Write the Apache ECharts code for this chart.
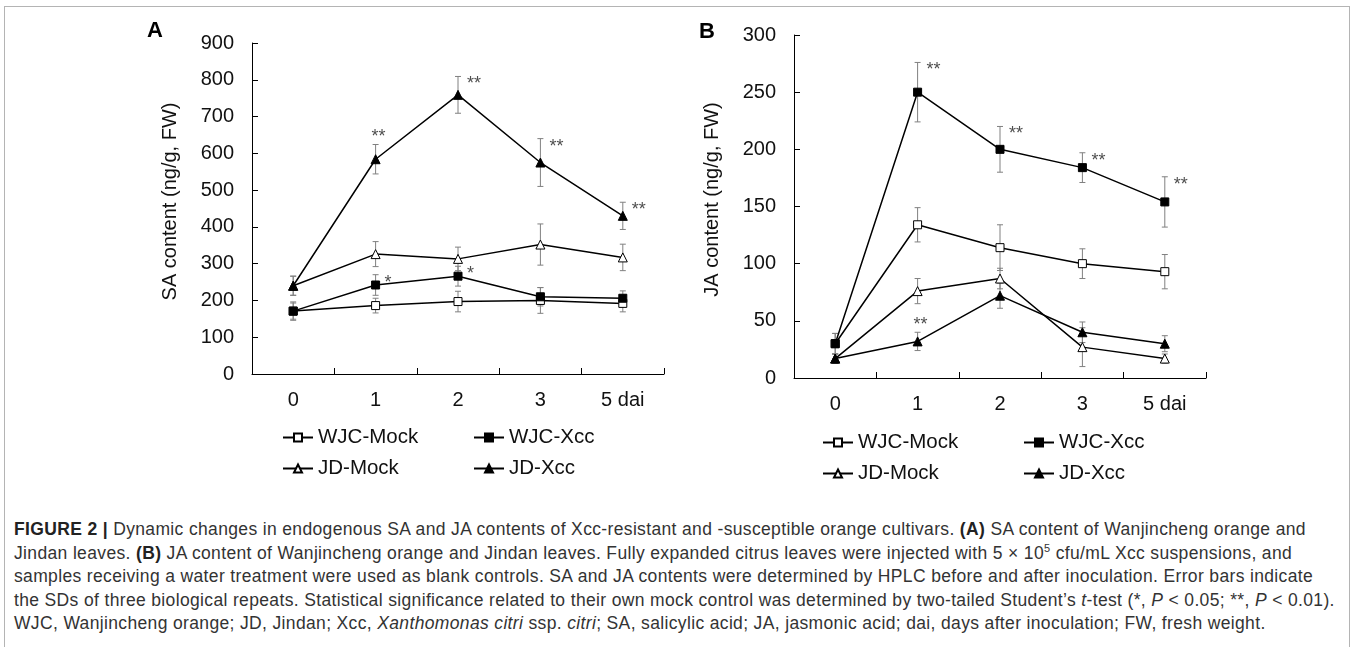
<!DOCTYPE html>
<html>
<head>
<meta charset="utf-8">
<script src="https://cdn.jsdelivr.net/npm/echarts@6/dist/echarts.min.js"></script>
<style>
  html, body { margin: 0; padding: 0; background: #fff; overflow: hidden; }
  .frame { position: absolute; left: 4px; top: 6px; width: 1344px; height: 700px; border: 1px solid #b4b4b4; }
  #chart { position: absolute; left: 0; top: 0; width: 1352px; height: 500px; }
  .caption {
    position: absolute; left: 14px; top: 518px; width: 1334px;
    font-family: "Liberation Sans", Arial, sans-serif; font-size: 17.5px; letter-spacing: 0.35px; line-height: 23.5px;
    color: #333; white-space: nowrap;
  }
  .caption b { color: #222; }
</style>
</head>
<body>
<div class="frame"></div>
<div id="chart"></div>
<div class="caption">
  <div><b>FIGURE 2 |</b> Dynamic changes in endogenous SA and JA contents of Xcc-resistant and -susceptible orange cultivars. <b>(A)</b> SA content of Wanjincheng orange and</div>
  <div>Jindan leaves. <b>(B)</b> JA content of Wanjincheng orange and Jindan leaves. Fully expanded citrus leaves were injected with 5 × 10<sup style="font-size:11px;line-height:0">5</sup> cfu/mL Xcc suspensions, and</div>
  <div>samples receiving a water treatment were used as blank controls. SA and JA contents were determined by HPLC before and after inoculation. Error bars indicate</div>
  <div>the SDs of three biological repeats. Statistical significance related to their own mock control was determined by two-tailed Student’s <i>t</i>-test (*, <i>P</i> &lt; 0.05; **, <i>P</i> &lt; 0.01).</div>
  <div>WJC, Wanjincheng orange; JD, Jindan; Xcc, <i>Xanthomonas citri</i> ssp. <i>citri</i>; SA, salicylic acid; JA, jasmonic acid; dai, days after inoculation; FW, fresh weight.</div>
</div>
<script>
// categories (days after inoculation)
const days = ['0', '1', '2', '3', '5 dai'];
const saTicks = { min: 0, max: 900, interval: 100 };
const jaTicks = { min: 0, max: 300, interval: 50 };

// SA content (ng/g FW) and SD
const wjcMockSA = [171, 186, 197, 200, 192];
const wjcMockSAsd = [22, 20, 28, 35, 23];
const wjcXccSA = [171, 242, 266, 210, 206];
const wjcXccSAsd = [25, 28, 27, 25, 20];
const jdMockSA = [240, 326, 313, 352, 317];
const jdMockSAsd = [26, 34, 32, 56, 36];
const jdXccSA = [240, 584, 759, 575, 430];
const jdXccSAsd = [26, 40, 50, 65, 37];

// JA content (ng/g FW) and SD
const wjcMockJA = [30, 134, 114, 100, 93];
const wjcMockJAsd = [9, 15, 20, 13, 15];
const wjcXccJA = [30, 250, 200, 184, 154];
const wjcXccJAsd = [9, 26, 20, 13, 22];
const jdMockJA = [17, 76, 87, 27, 17];
const jdMockJAsd = [4, 11, 9, 17, 4];
const jdXccJA = [17, 32, 72, 40, 30];
const jdXccJAsd = [4, 8, 11, 9, 7];

// significance marks
const wjcXccSAsig = ['', '*', '*', '', ''];
const jdXccSAsig = ['', '**', '**', '**', '**'];
const wjcXccJAsig = ['', '**', '**', '**', '**'];
const jdXccJAsig = ['', '**', '', '', ''];

const FONT = '"Liberation Sans", Arial, sans-serif';
const styles = {
  'WJC-Mock': { symbol: 'rect', size: 8, fill: '#fff' },
  'WJC-Xcc': { symbol: 'rect', size: 8, fill: '#000' },
  'JD-Mock': { symbol: 'triangle', size: 9, fill: '#fff' },
  'JD-Xcc': { symbol: 'triangle', size: 9, fill: '#000' },
};

const chart = echarts.init(document.getElementById('chart'));

const renderErr = (params, api) => {
  const x = api.value(0), v = api.value(1), s = api.value(2);
  const hi = api.coord([x, v + s]);
  const lo = api.coord([x, v - s]);
  const w = 3;
  const st = { stroke: '#808080', lineWidth: 1 };
  return {
    type: 'group',
    children: [
      { type: 'line', shape: { x1: hi[0], y1: hi[1], x2: lo[0], y2: lo[1] }, style: st },
      { type: 'line', shape: { x1: hi[0] - w, y1: hi[1], x2: hi[0] + w, y2: hi[1] }, style: st },
      { type: 'line', shape: { x1: lo[0] - w, y1: lo[1], x2: lo[0] + w, y2: lo[1] }, style: st },
    ],
  };
};

const makeSeries = (idx, name, vals, sds, sig) => {
  const st = styles[name];
  const out = [
    {
      type: 'custom',
      xAxisIndex: idx, yAxisIndex: idx,
      renderItem: renderErr,
      z: 1,
      silent: true,
      data: vals.map((v, i) => [i, v, sds[i]]),
    },
    {
      name,
      type: 'line',
      xAxisIndex: idx, yAxisIndex: idx,
      symbol: st.symbol,
      symbolSize: st.size,
      showAllSymbol: true,
      z: 3,
      lineStyle: { color: '#000', width: 1.5 },
      itemStyle: { color: st.fill, borderColor: '#000', borderWidth: 1 },
      data: vals,
    },
  ];
  if (sig) {
    out.push({
      type: 'scatter',
      xAxisIndex: idx, yAxisIndex: idx,
      symbolSize: 0,
      silent: true,
      z: 4,
      data: vals.map((v, i) => ({
        value: [i, v + sds[i]],
        label: name === 'JD-Xcc' && i === 1
          ? { position: 'top', offset: [3, 4], distance: 2 }
          : { position: 'right', offset: [7, 8], distance: 2 },
      })),
      label: {
        show: true,
        fontFamily: FONT,
        fontSize: 18,
        color: '#222',
        formatter: (p) => sig[p.dataIndex],
      },
    });
  }
  return out;
};

const axisX = (idx) => ({
  type: 'category',
  gridIndex: idx,
  data: days,
  boundaryGap: true,
  axisLine: { lineStyle: { color: '#000', width: 1 } },
  axisTick: { show: true, inside: true, length: 6, alignWithLabel: false, lineStyle: { color: '#000' } },
  axisLabel: { color: '#111', fontFamily: FONT, fontSize: 20, margin: 16 },
  splitLine: { show: false },
});

const axisY = (idx, ticks, name) => ({
  type: 'value',
  gridIndex: idx,
  min: ticks.min,
  max: ticks.max,
  interval: ticks.interval,
  name,
  nameLocation: 'middle',
  nameGap: 72,
  nameTextStyle: { color: '#111', fontFamily: FONT, fontSize: 20, padding: [0, 0, 0, 14] },
  axisLine: { show: true, lineStyle: { color: '#000', width: 1 } },
  axisTick: { show: true, inside: true, length: 6, lineStyle: { color: '#000' } },
  axisLabel: { color: '#111', fontFamily: FONT, fontSize: 20, margin: 18 },
  splitLine: { show: false },
});

const legendAt = (name, left, top) => ({
  data: [name],
  left, top,
  padding: 0,
  itemWidth: 30,
  itemHeight: 10,
  selectedMode: false,
  textStyle: { color: '#111', fontFamily: FONT, fontSize: 20.5 },
});

const option = {
  animation: false,
  backgroundColor: 'transparent',
  graphic: [
    { type: 'text', left: 147, top: 20, style: { text: 'A', font: 'bold 22px ' + FONT, fill: '#000' } },
    { type: 'text', left: 699, top: 21, style: { text: 'B', font: 'bold 22px ' + FONT, fill: '#000' } },
  ],
  grid: [
    { left: 252, top: 43, width: 412, height: 331 },
    { left: 794, top: 35, width: 412, height: 343 },
  ],
  xAxis: [axisX(0), axisX(1)],
  yAxis: [axisY(0, saTicks, 'SA content (ng/g, FW)'), axisY(1, jaTicks, 'JA content (ng/g, FW)')],
  legend: [
    legendAt('WJC-Mock', 282, 427),
    legendAt('WJC-Xcc', 473, 427),
    legendAt('JD-Mock', 282, 458),
    legendAt('JD-Xcc', 473, 458),
    legendAt('WJC-Mock', 822, 432),
    legendAt('WJC-Xcc', 1023, 432),
    legendAt('JD-Mock', 822, 463),
    legendAt('JD-Xcc', 1023, 463),
  ],
  series: [
    ...makeSeries(0, 'WJC-Mock', wjcMockSA, wjcMockSAsd),
    ...makeSeries(0, 'WJC-Xcc', wjcXccSA, wjcXccSAsd, wjcXccSAsig),
    ...makeSeries(0, 'JD-Mock', jdMockSA, jdMockSAsd),
    ...makeSeries(0, 'JD-Xcc', jdXccSA, jdXccSAsd, jdXccSAsig),
    ...makeSeries(1, 'WJC-Mock', wjcMockJA, wjcMockJAsd),
    ...makeSeries(1, 'WJC-Xcc', wjcXccJA, wjcXccJAsd, wjcXccJAsig),
    ...makeSeries(1, 'JD-Mock', jdMockJA, jdMockJAsd),
    ...makeSeries(1, 'JD-Xcc', jdXccJA, jdXccJAsd, jdXccJAsig),
  ],
};
chart.setOption(option);
</script>
</body>
</html>
